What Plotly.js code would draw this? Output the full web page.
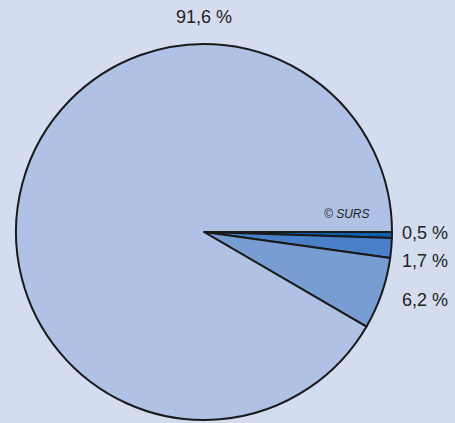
<!DOCTYPE html>
<html>
<head>
<meta charset="utf-8">
<script src="https://cdn.plot.ly/plotly-3.0.1.min.js"></script>
<style>html,body{margin:0;padding:0;background:#d4dcef;}#chart{width:455px;height:423px;}</style>
</head>
<body>
<div id="chart"></div>
<script>
var labels = ["0,5 %", "1,7 %", "6,2 %", "91,6 %"];
var values = [0.5, 1.7, 6.2, 91.6];
var colors = ["#0d5fb0", "#4a80c8", "#789dd3", "#afc2e5"];

var W = 455, H = 423;
var cx = 204, cy = 232, r = 188;

var trace = {
  type: "pie",
  labels: labels,
  values: values,
  sort: false,
  direction: "clockwise",
  rotation: 90,
  textinfo: "none",
  hoverinfo: "none",
  showlegend: false,
  marker: {colors: colors, line: {color: "#1a1a1a", width: 2}},
  domain: {x: [(cx - r) / W, (cx + r) / W], y: [(H - cy - r) / H, (H - cy + r) / H]}
};

var font = {family: "Liberation Sans, Arial, sans-serif", size: 18, color: "#222222"};
function px(x) { return x / W; }
function py(y) { return 1 - y / H; }
var annotations = [
  {text: labels[3], x: px(204), y: py(17)},
  {text: labels[0], x: px(425), y: py(233)},
  {text: labels[1], x: px(425), y: py(261)},
  {text: labels[2], x: px(425), y: py(300)}
].map(function (a) {
  return Object.assign({xref: "paper", yref: "paper", showarrow: false, xanchor: "center", yanchor: "middle", font: font}, a);
});
annotations.push({
  text: "<i>© SURS</i>", x: px(347), y: py(214), xref: "paper", yref: "paper", showarrow: false,
  xanchor: "center", yanchor: "middle",
  font: {family: "Liberation Sans, Arial, sans-serif", size: 12, color: "#222222"}
});

var layout = {
  width: W, height: H,
  margin: {l: 0, r: 0, t: 0, b: 0},
  paper_bgcolor: "#d4dcef",
  plot_bgcolor: "#d4dcef",
  annotations: annotations
};

Plotly.newPlot("chart", [trace], layout, {displayModeBar: false, staticPlot: true});
</script>
</body>
</html>
